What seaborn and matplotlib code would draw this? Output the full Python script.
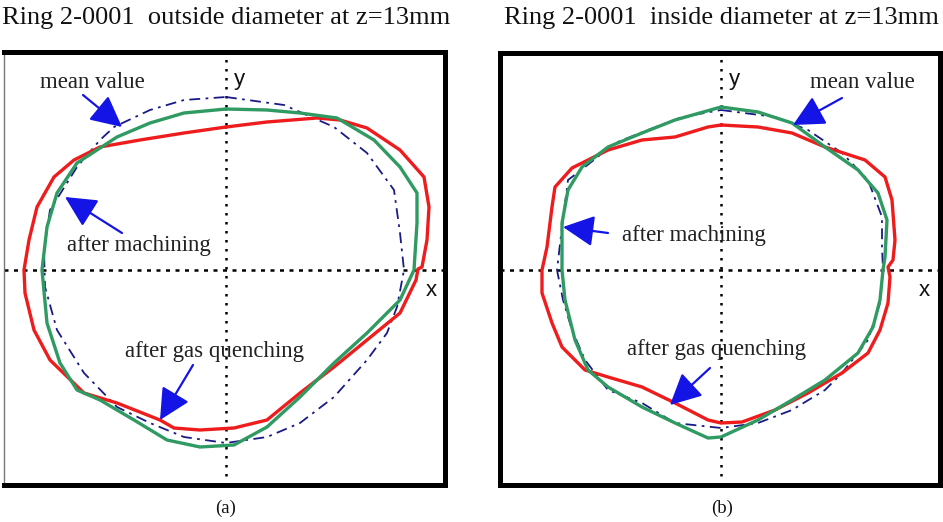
import matplotlib
matplotlib.use("Agg")
import matplotlib.pyplot as plt
import numpy as np
import pandas as pd
import seaborn as sns

sns.set_theme(style="white")
plt.rcParams["font.family"] = ["Liberation Serif", "DejaVu Serif"]

# ---- measured ring profiles (x, y in plot units about the ring centre) ----
# (a) outside diameter
a_mean_x = [0, 58, 108, 141, 168, 174, 178, 171, 161, 141, 108, 74, 41, 0, -42, -76, -109, -142, -169, -181, -182, -176, -149, -126, -112, -76, -42]
a_mean_y = [173, 165, 143, 117, 80, 37, 0, -37, -63, -90, -127, -153, -167, -173, -167, -153, -137, -103, -60, -17, 20, 60, 103, 130, 143, 160, 170]

a_quench_x = [0, 41, 91, 114, 141, 174, 198, 203, 201, 196, 192, 190, 174, 141, 108, 74, 41, 8, -26, -52, -66, -109, -142, -176, -192, -201, -202, -197, -189, -172, -152, -126, -86, -42]
a_quench_y = [143, 148, 152, 150, 142, 120, 93, 63, 30, 3, 1, -10, -43, -70, -97, -123, -150, -158, -160, -158, -150, -133, -123, -90, -60, -23, 0, 30, 63, 93, 110, 123, 130, 137]

a_mach_x = [0, 41, 74, 111, 148, 174, 191, 191, 188, 174, 141, 108, 74, 41, 8, -26, -59, -92, -126, -149, -166, -179, -184, -179, -169, -149, -109, -76, -42]
a_mach_y = [161, 160, 157, 152, 130, 103, 77, 47, 0, -30, -63, -93, -127, -157, -175, -177, -170, -150, -130, -120, -93, -53, 0, 43, 77, 107, 133, 147, 157]

# (b) inside diameter
b_mean_x = [0, 54, 87, 121, 147, 161, 161, 162, 159, 147, 121, 104, 71, 37, 0, -46, -79, -113, -136, -149, -158, -164, -159, -153, -136, -106, -73, -39]
b_mean_y = [160, 153, 140, 117, 90, 53, 23, 0, -33, -70, -103, -120, -140, -153, -158, -153, -133, -120, -90, -60, -30, 0, 43, 90, 103, 127, 140, 153]

b_quench_x = [0, 37, 71, 104, 144, 164, 171, 174, 172, 167, 169, 167, 159, 147, 121, 87, 54, 21, 0, -13, -46, -79, -113, -136, -159, -169, -179, -179, -174, -169, -166, -149, -113, -79, -46, -13]
b_quench_y = [145, 143, 137, 123, 110, 93, 70, 30, 10, 3, -7, -33, -60, -83, -103, -123, -140, -152, -153, -150, -133, -117, -107, -100, -77, -53, -23, 0, 23, 63, 83, 102, 120, 130, 133, 143]

b_mach_x = [0, 37, 71, 104, 137, 157, 166, 164, 162, 159, 152, 137, 104, 71, 37, 0, -13, -46, -79, -113, -133, -146, -156, -159, -159, -153, -139, -113, -79, -46]
b_mach_y = [163, 158, 147, 123, 100, 77, 50, 13, 0, -30, -57, -83, -110, -130, -150, -167, -168, -153, -137, -117, -100, -70, -30, 0, 47, 80, 103, 123, 137, 150]

titles = ["Ring 2-0001  outside diameter at z=13mm",
          "Ring 2-0001  inside diameter at z=13mm"]
panel_tags = ["(a)", "(b)"]
labels = ["mean value", "after machining", "after gas quenching"]

RED = "#ee1c1c"
GREEN = "#2f9a62"
NAVY = "#1a1a86"
ARROW = "#1414e6"


def closed(xs, ys, name):
    xs = list(xs) + [xs[0]]
    ys = list(ys) + [ys[0]]
    return pd.DataFrame({"x": xs, "y": ys, "order": range(len(xs)), "curve": name})


fig = plt.figure(figsize=(9.43, 5.22), dpi=100)

panels = [
    dict(rect=[4 / 943, 1 - 485 / 522, 441 / 943, 433 / 522],
         xlim=(-222, 219), ylim=(-215, 218),
         mean=(a_mean_x, a_mean_y), quench=(a_quench_x, a_quench_y), mach=(a_mach_x, a_mach_y),
         ann={"mean value": ((-186, 188), (-143, 175), (-104, 143)),
              "after machining": ((-159, 24), (-104, 37), (-161, 73)),
              "after gas quenching": ((-101, -82), (-33, -95), (-66, -150))},
         xy_lbl=((8, 190), (200, -20))),
    dict(rect=[500 / 943, 1 - 485 / 522, 440 / 943, 432 / 522],
         xlim=(-221, 219), ylim=(-215, 217),
         mean=(b_mean_x, b_mean_y), quench=(b_quench_x, b_quench_y), mach=(b_mach_x, b_mach_y),
         ann={"mean value": ((89, 188), (121, 172), (72, 145)),
              "after machining": ((-99, 34), (-113, 37), (-158, 43)),
              "after gas quenching": ((-94, -79), (-11, -98), (-51, -135))},
         xy_lbl=((8, 190), (198, -20))),
]

for i, p in enumerate(panels):
    ax = fig.add_axes(p["rect"])
    # dotted reference axes through the nominal centre
    ax.axhline(0, color="black", lw=1.8, ls=(0, (1.6, 2.2)), zorder=1)
    ax.axvline(0, color="black", lw=1.8, ls=(0, (1.0, 2.6)), zorder=1)

    df_mean = closed(*p["mean"], "mean value")
    df_q = closed(*p["quench"], "after gas quenching")
    df_m = closed(*p["mach"], "after machining")

    sns.lineplot(data=df_mean, x="x", y="y", sort=False, estimator=None, ax=ax,
                 color=NAVY, lw=1.3, ls=(0, (6, 3, 1.5, 3)), zorder=2)
    sns.lineplot(data=df_q, x="x", y="y", sort=False, estimator=None, ax=ax,
                 color=RED, lw=2.4, zorder=3)
    sns.lineplot(data=df_m, x="x", y="y", sort=False, estimator=None, ax=ax,
                 color=GREEN, lw=2.4, zorder=4)

    for lbl in labels:
        (tx, ty), (sx, sy), (hx, hy) = p["ann"][lbl]
        ax.text(tx, ty, lbl, fontsize=16.5, ha="left", va="center", color="#222222", zorder=6)
        ax.annotate("", xy=(hx, hy), xytext=(sx, sy), zorder=6,
                    arrowprops=dict(arrowstyle="-|>,head_length=1.6,head_width=0.8",
                                    color=ARROW, lw=1.6, shrinkA=0, shrinkB=0))

    (yx, yy), (xx, xy_) = p["xy_lbl"]
    ax.text(yx, yy, "y", fontsize=16, family=["Liberation Sans", "DejaVu Sans"],
            ha="left", va="center", color="#111111")
    ax.text(xx, xy_, "x", fontsize=16, family=["Liberation Sans", "DejaVu Sans"],
            ha="left", va="center", color="#111111")

    ax.set_xlim(*p["xlim"])
    ax.set_ylim(*p["ylim"])
    ax.set_xticks([])
    ax.set_yticks([])
    ax.set_xlabel("")
    ax.set_ylabel("")
    for side, sp in ax.spines.items():
        sp.set_visible(True)
        sp.set_color("black")
        sp.set_linewidth(3.6)
    if i == 0:
        ax.spines["left"].set_linewidth(1.0)
        ax.spines["left"].set_color("#777777")

fig.text(2 / 943, 1 - 18 / 522, titles[0], fontsize=19, ha="left", va="center", color="#111111")
fig.text(504 / 943, 1 - 18 / 522, titles[1], fontsize=19, ha="left", va="center", color="#111111")
fig.text(226 / 943, 1 - 508 / 522, panel_tags[0], fontsize=13.5, ha="center", va="center", color="#111111")
fig.text(722 / 943, 1 - 508 / 522, panel_tags[1], fontsize=13.5, ha="center", va="center", color="#111111")

fig.savefig("out.png", dpi=100)
